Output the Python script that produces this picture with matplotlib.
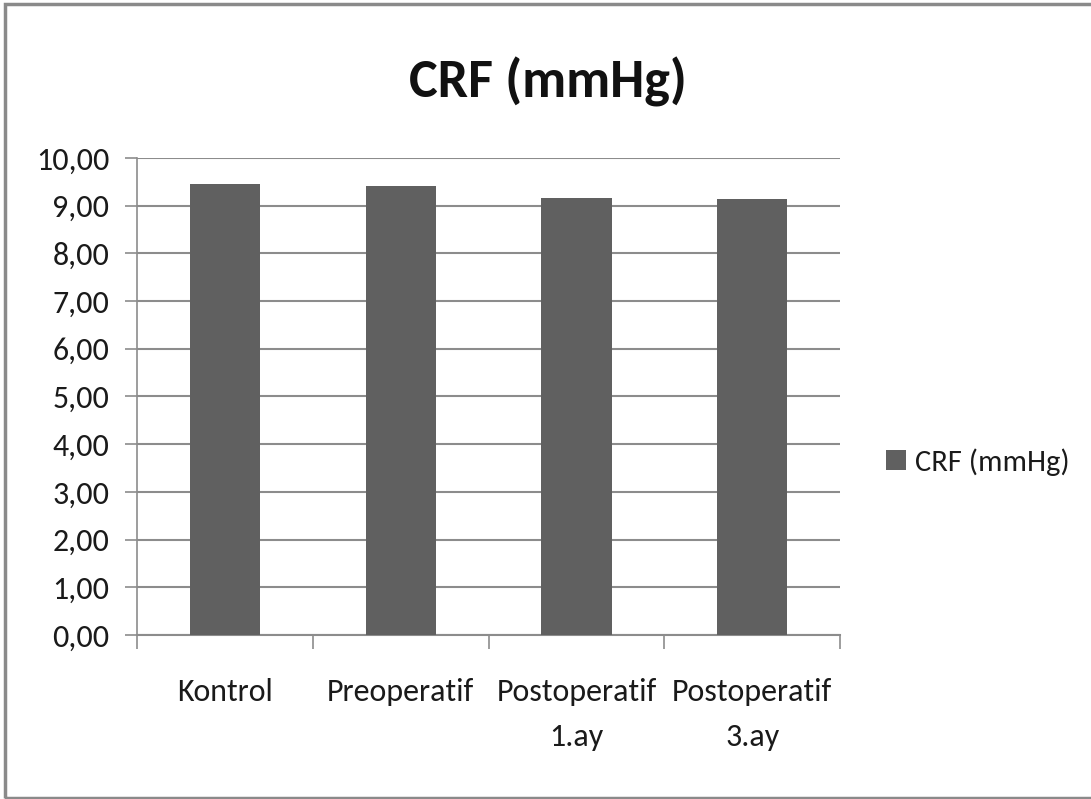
import matplotlib.pyplot as plt
from matplotlib.patches import Rectangle

# Veriler
kategoriler = ['Kontrol', 'Preoperatif', 'Postoperatif\n1.ay', 'Postoperatif\n3.ay']
crf = [9.45, 9.41, 9.17, 9.13]
y_ticks = [0, 1, 2, 3, 4, 5, 6, 7, 8, 9, 10]
y_labels = ['0,00', '1,00', '2,00', '3,00', '4,00', '5,00', '6,00', '7,00', '8,00', '9,00', '10,00']

plt.rcParams['font.family'] = ['Carlito', 'DejaVu Sans']

fig = plt.figure(figsize=(10.91, 7.99), dpi=100)
ax = fig.add_axes([0.1256, 0.2053, 0.6444, 0.5970])

x = range(len(kategoriler))
ax.bar(x, crf, width=0.4, color='#606060', zorder=3, label='CRF (mmHg)')

ax.set_ylim(0, 10)
ax.set_xlim(-0.5, 3.5)
ax.set_yticks(y_ticks)
ax.set_yticklabels(y_labels, fontsize=23, color='#1a1a1a')
ax.set_xticks(list(x))
ax.set_xticklabels(kategoriler, fontsize=23, color='#1a1a1a', linespacing=1.75, va='top')
ax.tick_params(axis='x', length=0, pad=31)
ax.tick_params(axis='y', length=9, color='#8c8c8c', width=1.2, pad=11)

# kategori sinirlarindaki tik cizgileri
ax.set_xticks([-0.5, 0.5, 1.5, 2.5, 3.5], minor=True)
ax.tick_params(axis='x', which='minor', length=10, color='#8c8c8c', width=1.2)

ax.yaxis.grid(True, color='#8c8c8c', linewidth=1.5, zorder=0)
for s in ['top', 'right']:
    ax.spines[s].set_visible(False)
ax.spines['left'].set_color('#8c8c8c')
ax.spines['bottom'].set_color('#8c8c8c')
ax.spines['left'].set_linewidth(1.2)
ax.spines['bottom'].set_linewidth(1.5)

fig.text(0.502, 0.898, 'CRF (mmHg)', ha='center', va='center', fontsize=39,
         fontweight='bold', color='#111111')

h, l = ax.get_legend_handles_labels()
fig.legend(h, l, loc='center left', bbox_to_anchor=(0.812, 0.422), frameon=False, fontsize=22,
           handlelength=0.65, handleheight=0.65, handletextpad=0.3, borderpad=0,
           borderaxespad=0, labelcolor='#1a1a1a')

fig.patches.append(Rectangle((5 / 1091, 1.5 / 799), 1.2, 794 / 799, transform=fig.transFigure,
                             fill=False, edgecolor='#8a8a8a', linewidth=2.5))

fig.savefig('out.png', dpi=100)
